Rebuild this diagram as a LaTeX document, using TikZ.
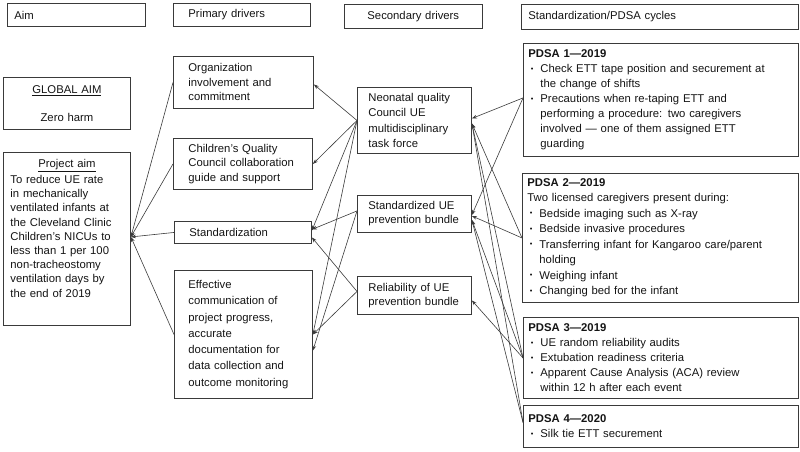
\documentclass[tikz,border=0pt]{standalone}
\usepackage{fontspec}
\setmainfont{Liberation Sans}
\usepackage{graphicx}
\usetikzlibrary{arrows.meta,calc}
\definecolor{ink}{HTML}{141414}
\definecolor{edge}{HTML}{3A3A3A}
\newcommand{\bul}{\makebox[12pt][l]{\hspace*{2.5pt}\raisebox{0.25ex}{\scalebox{0.65}{•}}}}
\newcommand{\cont}{\hspace*{12pt}}
\tikzset{
  box/.style={draw=edge, line width=0.9pt, rectangle, anchor=north west, align=left,
    font=\fontsize{11.3}{14.5}\selectfont, text=ink, inner ysep=0pt},
  pdsabox/.style={box, font=\fontsize{11.3}{15}\selectfont, inner xsep=5pt},
  arr/.style={draw=edge, line width=0.6pt, -{Stealth[length=5pt,width=3.6pt]}}
}
\begin{document}
\begin{tikzpicture}[x=1pt,y=-1pt]
\useasboundingbox (0,0) rectangle (800,452);

% headers
\node[box, minimum width=138pt, minimum height=23pt, text width=124pt, inner xsep=7pt] (aimH) at (7,3) {Aim};
\node[box, minimum width=137pt, minimum height=23pt, text width=107pt, inner xsep=15pt] (primH) at (173,3) {Primary drivers};
\node[box, minimum width=138pt, minimum height=24pt, text width=100pt, inner xsep=19pt] (secH) at (344,4) {\hspace*{4pt}Secondary drivers};
\node[box, minimum width=277pt, minimum height=25pt, text width=263pt, inner xsep=7pt] (pdsaH) at (521,4) {Standardization/PDSA cycles};

% aims
\node[box, align=center, minimum width=127pt, minimum height=52pt, text width=113pt, inner xsep=7pt] (glob) at (3,77)
  {\underline{GLOBAL AIM}\\[13pt]Zero harm};
\node[box, font=\fontsize{11.3}{14.2}\selectfont, minimum width=127pt, minimum height=173pt, text width=113pt, inner xsep=7pt] (pa) at (3,152)
  {\makebox[113pt][c]{\underline{Project aim}}\\[1.5pt]
   To reduce UE rate\\in mechanically\\ventilated infants at\\the Cleveland Clinic\\Children’s NICUs to\\less than 1 per 100\\non-tracheostomy\\ventilation days by\\the end of 2019\\[7pt]\mbox{}};

% primary drivers
\node[box, minimum width=140pt, minimum height=52pt, text width=110pt, inner xsep=15pt] (org) at (173,56)
  {Organization\\involvement and\\commitment};
\node[box, minimum width=139pt, minimum height=51pt, text width=109pt, inner xsep=15pt] (chil) at (173,138)
  {Children’s Quality\\Council collaboration\\guide and support};
\node[box, minimum width=137pt, minimum height=22pt, text width=107pt, inner xsep=14pt] (std) at (174,221)
  {Standardization};
\node[box, font=\fontsize{11.3}{16.3}\selectfont, minimum width=138pt, minimum height=128pt, text width=110pt, inner xsep=14pt] (eff) at (174,270)
  {Effective\\communication of\\project progress,\\accurate\\documentation for\\data collection and\\outcome monitoring};

% secondary drivers
\node[box, font=\fontsize{11.3}{15.3}\selectfont, minimum width=114pt, minimum height=66pt, text width=92pt, inner xsep=11pt] (neo) at (357,87)
  {Neonatal quality\\Council UE\\multidisciplinary\\task force};
\node[box, font=\fontsize{11.3}{14}\selectfont, minimum width=114pt, minimum height=37pt, text width=92pt, inner xsep=11pt] (sbun) at (357,195)
  {Standardized UE\\prevention bundle};
\node[box, font=\fontsize{11.3}{14}\selectfont, minimum width=114pt, minimum height=38pt, text width=92pt, inner xsep=11pt] (rel) at (357,276)
  {Reliability of UE\\prevention bundle};

% PDSA cycles
\node[pdsabox, minimum width=275pt, minimum height=113pt, text width=265pt] (p1) at (523,43)
  {\textbf{PDSA 1—2019}\\
   \bul Check ETT tape position and securement at\\
   \cont the change of shifts\\
   \bul Precautions when re-taping ETT and\\
   \cont performing a procedure: two caregivers\\
   \cont involved — one of them assigned ETT\\
   \cont guarding};
\node[pdsabox, font=\fontsize{11.3}{15.5}\selectfont, minimum width=276pt, minimum height=129pt, text width=266pt] (p2) at (522,173)
  {\textbf{PDSA 2—2019}\\
   Two licensed caregivers present during:\\
   \bul Bedside imaging such as X-ray\\
   \bul Bedside invasive procedures\\
   \bul Transferring infant for Kangaroo care/parent\\
   \cont holding\\
   \bul Weighing infant\\
   \bul Changing bed for the infant};
\node[pdsabox, minimum width=275pt, minimum height=81pt, text width=265pt] (p3) at (523,317)
  {\textbf{PDSA 3—2019}\\
   \bul UE random reliability audits\\
   \bul Extubation readiness criteria\\
   \bul Apparent Cause Analysis (ACA) review\\
   \cont within 12 h after each event};
\node[pdsabox, minimum width=275pt, minimum height=42pt, text width=265pt] (p4) at (523,405)
  {\textbf{PDSA 4—2020}\\
   \bul Silk tie ETT securement};

% primary -> project aim
\coordinate (paIn) at ([yshift=2pt]pa.east);
\draw[arr] (org.west) -- (paIn);
\draw[arr] (chil.west) -- (paIn);
\draw[arr] (std.west) -- (paIn);
\draw[arr] (eff.west) -- (paIn);

% secondary -> primary
\draw[arr] (neo.west) -- ([yshift=-2pt]org.east);
\draw[arr] (neo.west) -- (chil.east);
\draw[arr] (neo.west) -- ([yshift=2pt]std.east);
\draw[arr] (neo.west) -- (eff.east);
\draw[arr] ([yshift=3pt]sbun.west) -- ([yshift=3pt]std.east);
\draw[arr] ([yshift=3pt]sbun.west) -- ([yshift=-16pt]eff.east);
\draw[arr] ([yshift=4pt]rel.west) -- ([yshift=-5pt]std.east);
\draw[arr] ([yshift=4pt]rel.west) -- (eff.east);

% PDSA -> secondary
\draw[arr] ([yshift=2pt]p1.west) -- ([yshift=2pt]neo.east);
\draw[arr] ([yshift=2pt]p1.west) -- ([yshift=-1pt]sbun.east);
\draw[arr] (p2.west) -- ([yshift=-2pt]sbun.east);
\draw[arr] (p2.west) -- ([yshift=-3pt]neo.east);
\draw[arr] (p3.west) -- ([yshift=-5pt]rel.east);
\draw[arr] (p3.west) -- ([yshift=-3pt]neo.east);
\draw[arr] (p3.west) -- ([yshift=-6pt]sbun.east);
\draw[arr] ([yshift=4pt]p4.west) -- ([yshift=-3pt]neo.east);
\draw[arr] ([yshift=4pt]p4.west) -- ([yshift=-6pt]sbun.east);
\end{tikzpicture}
\end{document}
